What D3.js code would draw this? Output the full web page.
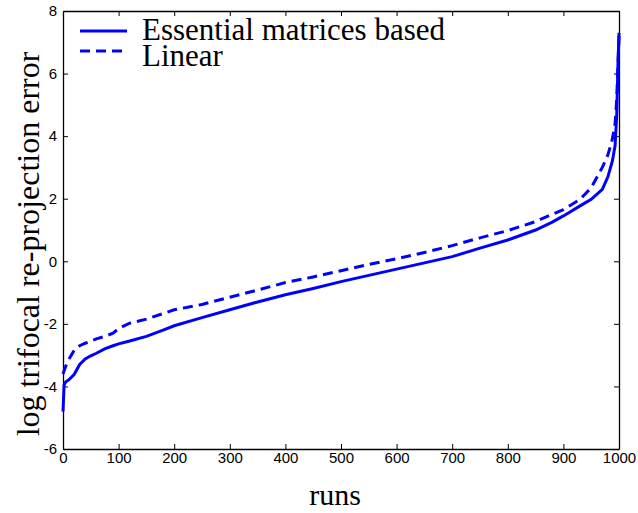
<!DOCTYPE html>
<html>
<head>
<meta charset="utf-8">
<script src="https://cdn.jsdelivr.net/npm/d3@7"></script>
<style>
  body { margin: 0; background: #fff; }
</style>
</head>
<body>
<div id="chart"></div>
<script>
// runs (sorted), log trifocal re-projection error for each method
const runs      = [0, 2, 5, 10, 20, 30, 40, 50, 60, 75, 90, 100, 120, 150, 180, 200, 250, 300, 350, 400, 450, 500, 550, 600, 650, 700, 750, 800, 850, 880, 900, 930, 950, 970, 980, 988, 993, 996, 998, 1000];
const essential = [-4.8, -3.95, -3.85, -3.8, -3.62, -3.3, -3.12, -3.02, -2.94, -2.8, -2.7, -2.64, -2.55, -2.4, -2.2, -2.06, -1.8, -1.55, -1.3, -1.07, -0.87, -0.65, -0.45, -0.25, -0.05, 0.15, 0.42, 0.68, 1.0, 1.25, 1.45, 1.77, 1.98, 2.3, 2.7, 3.2, 3.7, 4.7, 6.2, 7.3];
const linear    = [-3.6, -3.5, -3.35, -3.15, -2.85, -2.7, -2.62, -2.55, -2.48, -2.4, -2.3, -2.15, -1.98, -1.85, -1.67, -1.55, -1.38, -1.15, -0.92, -0.68, -0.5, -0.3, -0.1, 0.08, 0.28, 0.5, 0.75, 0.98, 1.27, 1.5, 1.65, 1.98, 2.35, 3.0, 3.4, 3.9, 4.4, 5.2, 6.2, 7.2];

const xTicks = d3.range(0, 1001, 100);
const yTicks = [-6, -4, -2, 0, 2, 4, 6, 8];
const seriesNames = ["Essential matrices based", "Linear"];

const width = 638, height = 513;
const margin = {top: 11, right: 19, bottom: 64, left: 63};
const innerW = width - margin.left - margin.right;
const innerH = height - margin.top - margin.bottom;

const svg = d3.select("#chart")
  .append("svg")
  .attr("width", width)
  .attr("height", height);

const g = svg.append("g")
  .attr("transform", `translate(${margin.left},${margin.top})`);

const x = d3.scaleLinear().domain([0, 1000]).range([0, innerW]);
const y = d3.scaleLinear().domain([-6, 8]).range([innerH, 0]);

const fmt = d => String(d); // plain hyphen minus like matlab

// axes, ticks pointing inward on all four sides
const tickLen = 5;
g.append("g")
  .attr("transform", `translate(0,${innerH})`)
  .call(d3.axisBottom(x).tickValues(xTicks).tickFormat(fmt).tickSizeInner(-tickLen).tickSizeOuter(0).tickPadding(3));
g.append("g")
  .call(d3.axisTop(x).tickValues(xTicks).tickFormat("").tickSizeInner(-tickLen).tickSizeOuter(0));
g.append("g")
  .call(d3.axisLeft(y).tickValues(yTicks).tickFormat(fmt).tickSizeInner(-tickLen).tickSizeOuter(0).tickPadding(6));
g.append("g")
  .attr("transform", `translate(${innerW},0)`)
  .call(d3.axisRight(y).tickValues(yTicks).tickFormat("").tickSizeInner(-tickLen).tickSizeOuter(0));

g.selectAll(".domain").attr("stroke", "#000").attr("stroke-width", 1.3);
g.selectAll(".tick line").attr("stroke", "#000").attr("stroke-width", 1);
g.selectAll(".tick text")
  .attr("font-family", "'Liberation Sans', Arial, sans-serif")
  .attr("font-size", 15)
  .attr("fill", "#000");

const line = d3.line()
  .x((d, i) => x(runs[i]))
  .y(d => y(d));

g.append("path")
  .datum(linear)
  .attr("fill", "none")
  .attr("stroke", "#0000ff")
  .attr("stroke-width", 3)
  .attr("stroke-dasharray", "10,6")
  .attr("d", line);

g.append("path")
  .datum(essential)
  .attr("fill", "none")
  .attr("stroke", "#0000ff")
  .attr("stroke-width", 3)
  .attr("d", line);

// legend (no box)
const legend = svg.append("g");
seriesNames.forEach((name, i) => {
  const ly = [31, 51][i];
  legend.append("line")
    .attr("x1", 80).attr("x2", 127)
    .attr("y1", ly).attr("y2", ly)
    .attr("stroke", "#0000ff")
    .attr("stroke-width", 3)
    .attr("stroke-dasharray", i === 1 ? "10,6" : null);
  legend.append("text")
    .attr("x", 142)
    .attr("y", [40, 66][i])
    .attr("font-family", "'Liberation Serif', 'Times New Roman', serif")
    .attr("font-size", 31)
    .text(name);
});

// axis titles
svg.append("text")
  .attr("x", 335)
  .attr("y", 505)
  .attr("text-anchor", "middle")
  .attr("font-family", "'Liberation Serif', 'Times New Roman', serif")
  .attr("font-size", 30)
  .text("runs");

svg.append("text")
  .attr("transform", "translate(39,244) rotate(-90)")
  .attr("text-anchor", "middle")
  .attr("font-family", "'Liberation Serif', 'Times New Roman', serif")
  .attr("font-size", 32)
  .text("log trifocal re-projection error");
</script>
</body>
</html>
